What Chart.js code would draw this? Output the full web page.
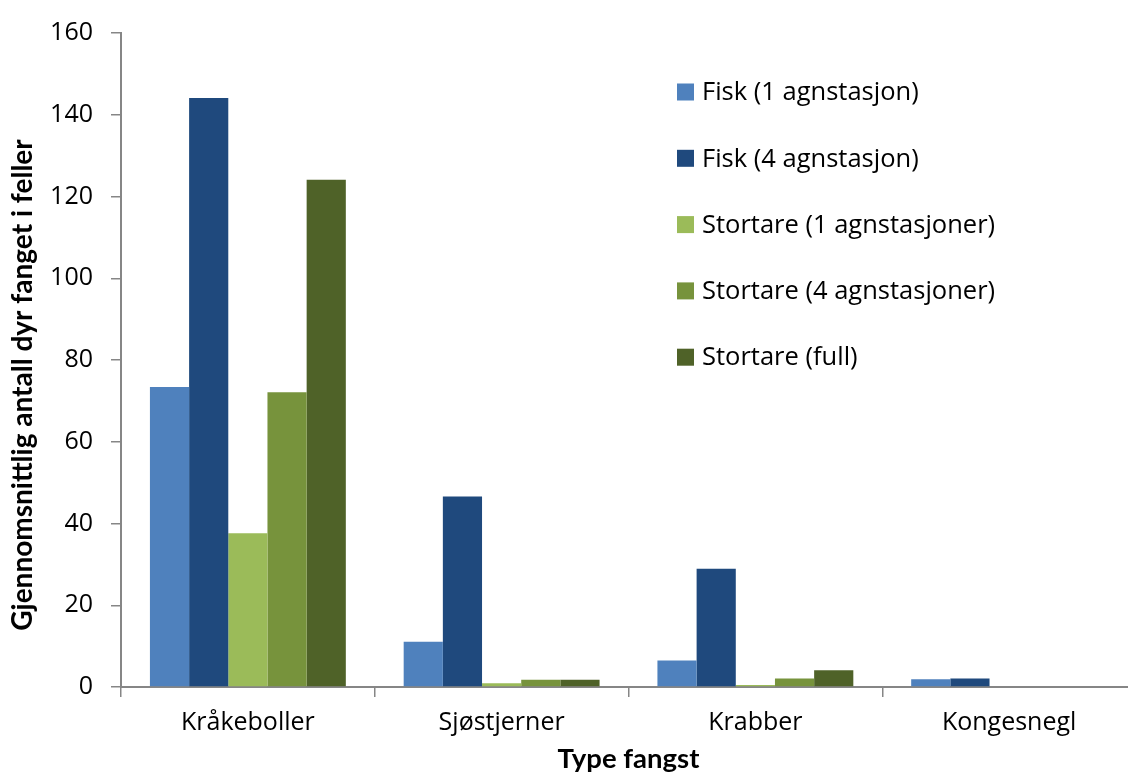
<!DOCTYPE html>
<html>
<head>
<meta charset="utf-8">
<script src="https://cdn.jsdelivr.net/npm/chart.js@4.4.1/dist/chart.umd.min.js"></script>
<style>
  body { margin: 0; overflow: hidden; background: #fff; }
  #wrap { width: 1136px; height: 774px; position: relative; }
</style>
</head>
<body>
<div id="wrap"><canvas id="chart"></canvas></div>
<script>
// data
const categories = ['Kråkeboller', 'Sjøstjerner', 'Krabber', 'Kongesnegl'];
const seriesNames = [
    'Fisk (1 agnstasjon)',
    'Fisk (4 agnstasjon)',
    'Stortare (1 agnstasjoner)',
    'Stortare (4 agnstasjoner)',
    'Stortare (full)'
];
const fisk1 = [73.4, 11.1, 6.5, 1.9];
const fisk4 = [144.1, 46.6, 28.9, 2.1];
const stortare1 = [37.6, 0.9, 0.5, 0.2];
const stortare4 = [72.1, 1.8, 2.1, 0];
const stortareFull = [124.1, 1.8, 4.1, 0];
const yTicks = [0, 20, 40, 60, 80, 100, 120, 140, 160];
const yTitle = 'Gjennomsnittlig antall dyr fanget i feller';

const colors = ['#4F81BD', '#1F497D', '#9BBB59', '#77933C', '#4F6228'];
const seriesValues = [fisk1, fisk4, stortare1, stortare4, stortareFull];

const FONT = '"Open Sans", Lato, sans-serif';
const TITLE_FONT = 'Lato, "Open Sans", sans-serif';
const AXIS_GREY = '#868686';

// legend sits inside the plot area, top right, like the Excel original;
// the y title is drawn here too so it can sit a bit below centre
const extras = {
    id: 'extras',
    afterDraw(chart) {
        const ctx = chart.ctx;
        ctx.save();
        ctx.font = '25.5px ' + FONT;
        ctx.textBaseline = 'middle';
        ctx.textAlign = 'left';
        chart.data.datasets.forEach((ds, i) => {
            const y = 92 + i * 66.3;
            ctx.fillStyle = ds.backgroundColor;
            ctx.fillRect(677, y - 8.5, 17, 17);
            ctx.fillStyle = '#000';
            ctx.fillText(ds.label, 702, y + 1);
        });

        ctx.translate(23, 385);
        ctx.rotate(-Math.PI / 2);
        ctx.textAlign = 'center';
        ctx.font = 'bold 28px ' + TITLE_FONT;
        ctx.fillText(yTitle, 0, 0);
        ctx.restore();
    }
};

const datasets = seriesNames.map((name, i) => ({
    label: name,
    data: seriesValues[i],
    backgroundColor: colors[i],
    borderWidth: 0,
    barPercentage: 1.0,
    categoryPercentage: 0.772
}));

new Chart(document.getElementById('chart').getContext('2d'), {
    type: 'bar',
    data: { labels: categories, datasets },
    options: {
        responsive: true,
        maintainAspectRatio: false,
        animation: false,
        layout: { padding: { top: 28, right: 0, bottom: 0, left: 0 } },
        plugins: {
            legend: { display: false },
            tooltip: { enabled: false }
        },
        scales: {
            x: {
                afterFit(scale) { scale.height = 87; },
                grid: {
                    drawOnChartArea: false,
                    drawTicks: true,
                    tickLength: 10,
                    color: AXIS_GREY,
                    lineWidth: 1.5,
                    offset: true
                },
                border: { color: AXIS_GREY, width: 2 },
                ticks: {
                    color: '#000',
                    font: { family: FONT, size: 25 },
                    padding: 11
                },
                title: {
                    display: true,
                    text: 'Type fangst',
                    color: '#000',
                    font: { family: TITLE_FONT, size: 27.5, weight: 'bold' },
                    padding: { top: 0, bottom: -2 }
                }
            },
            y: {
                min: 0,
                max: 160,
                afterFit(scale) { scale.width = 121; },
                afterBuildTicks(scale) {
                    scale.ticks = yTicks.map(v => ({ value: v }));
                },
                grid: {
                    drawOnChartArea: false,
                    drawTicks: true,
                    tickLength: 10,
                    color: AXIS_GREY,
                    lineWidth: 1.5
                },
                border: { color: AXIS_GREY, width: 2 },
                ticks: {
                    color: '#000',
                    font: { family: FONT, size: 25 },
                    padding: 18
                },
                title: { display: false }
            }
        }
    },
    plugins: [extras]
});
</script>
</body>
</html>
